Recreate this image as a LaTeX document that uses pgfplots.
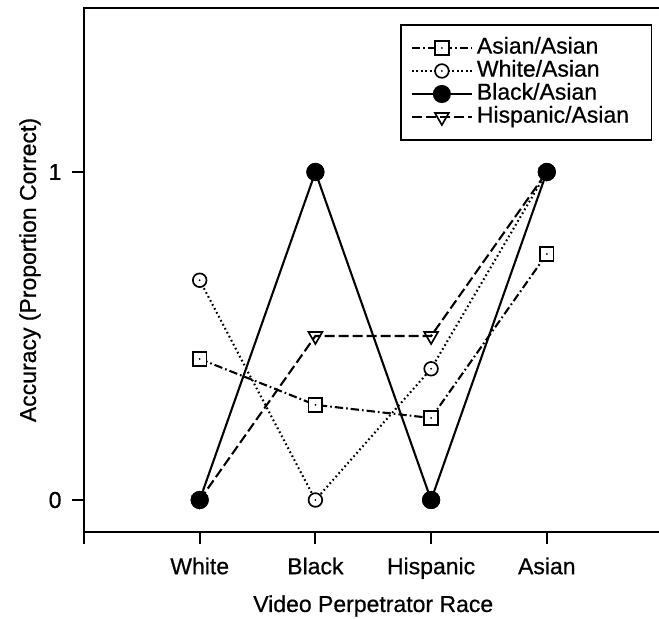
\documentclass[border=0pt]{standalone}
\usepackage{fontspec}
\setmainfont{Liberation Sans}[UprightFeatures={FakeBold=0.6}]
\usepackage{pgfplots}
\pgfplotsset{compat=1.18}

% open marks with a small centre dot
\pgfdeclareplotmark{dotsquare}{%
  \pgfpathrectangle{\pgfqpoint{-\pgfplotmarksize}{-\pgfplotmarksize}}{\pgfqpoint{2\pgfplotmarksize}{2\pgfplotmarksize}}%
  \pgfusepathqfillstroke
  \begin{pgfscope}%
    \pgfsetfillcolor{black}%
    \pgfpathcircle{\pgfpointorigin}{0.6pt}\pgfusepathqfill
  \end{pgfscope}}
\pgfdeclareplotmark{dotcircle}{%
  \pgfpathcircle{\pgfpointorigin}{\pgfplotmarksize}%
  \pgfusepathqfillstroke
  \begin{pgfscope}%
    \pgfsetfillcolor{black}%
    \pgfpathcircle{\pgfpointorigin}{0.6pt}\pgfusepathqfill
  \end{pgfscope}}

\begin{document}
\fontsize{13.8pt}{16.5pt}\selectfont
\begin{tikzpicture}
\begin{axis}[
  name=ax,
  x=69.42pt, y=196.8pt,
  xmin=0, xmax=5, ymin=-0.0976, ymax=1.5,
  axis line style={line width=1.25pt},
  xtick={0,1,2,3,4},
  xticklabels={{},White,Black,Hispanic,Asian},
  ytick={0,1}, yticklabels={0,1},
  /pgf/number format/assume math mode=true,
  tick align=outside, tick pos=left,
  major tick length=7.2pt,
  major tick style={line width=1.25pt, black},
  tick label style={font=\fontsize{13.8pt}{16.5pt}\selectfont},
  xticklabel style={yshift=-3.3pt},
  yticklabel style={xshift=-1.5pt},
  xlabel={Video Perpetrator Race},
  ylabel={Accuracy (Proportion Correct)},
  label style={font=\fontsize{13.8pt}{16.5pt}\selectfont},
  xlabel style={at={(axis description cs:0.5,0)}, anchor=center, yshift=-44.4pt},
  ylabel style={at={([xshift=-32.4pt]axis description cs:0,0.5)}, anchor=center},
  clip=false,
  legend cell align=left,
  legend style={
    at={([xshift=189.6pt,yshift=-9.6pt]axis description cs:0,1)},
    anchor=north west,
    draw=black, line width=1pt,
    inner xsep=6pt, inner ysep=7pt,
    row sep=0pt,
    font=\fontsize{13.8pt}{16.5pt}\selectfont,
    nodes={inner xsep=2.4pt, inner ysep=0.3pt, text height=10pt, text depth=3.2pt},
  },
  legend image code/.code={%
    \draw[mark repeat=2, mark phase=2, #1]
      plot coordinates {(0pt,0pt) (18pt,0pt) (36pt,0pt)};},
  every axis plot/.append style={black, line width=1.25pt},
]

% Asian/Asian
\addplot[dash pattern=on 5pt off 1.8pt on 1pt off 1.8pt,
  mark=dotsquare, mark size=4.1pt,
  mark options={solid, fill=white, line width=1pt}]
  coordinates {(1,0.43) (2,0.29) (3,0.25) (4,0.75)};
\addlegendentry{Asian/Asian}

% White/Asian
\addplot[dash pattern=on 1pt off 1.7pt,
  mark=dotcircle, mark size=4.1pt,
  mark options={solid, fill=white, line width=1pt}]
  coordinates {(1,0.67) (2,0) (3,0.40) (4,1)};
\addlegendentry{White/Asian}

% Black/Asian
\addplot[solid, mark=*, mark size=4.8pt,
  mark options={solid, fill=black}]
  coordinates {(1,0) (2,1) (3,0) (4,1)};
\addlegendentry{Black/Asian}

% Hispanic/Asian
\addplot[dash pattern=on 6pt off 2.4pt,
  mark=triangle, mark size=4.8pt,
  mark options={solid, fill=white, rotate=180, line width=1pt}]
  coordinates {(1,0) (2,0.5) (3,0.5) (4,1)};
\addlegendentry{Hispanic/Asian\hspace*{5pt}}

% filled marks drawn again on top of the shared points
\addplot[only marks, mark=*, mark size=4.8pt, forget plot]
  coordinates {(1,0) (2,1) (3,0) (4,1)};

\end{axis}
\pgfresetboundingbox
\path[use as bounding box]
  ([xshift=-50.4pt,yshift=-51.6pt]ax.south west)
  rectangle ([xshift=345pt,yshift=4.8pt]ax.north west);
\end{tikzpicture}
\end{document}
